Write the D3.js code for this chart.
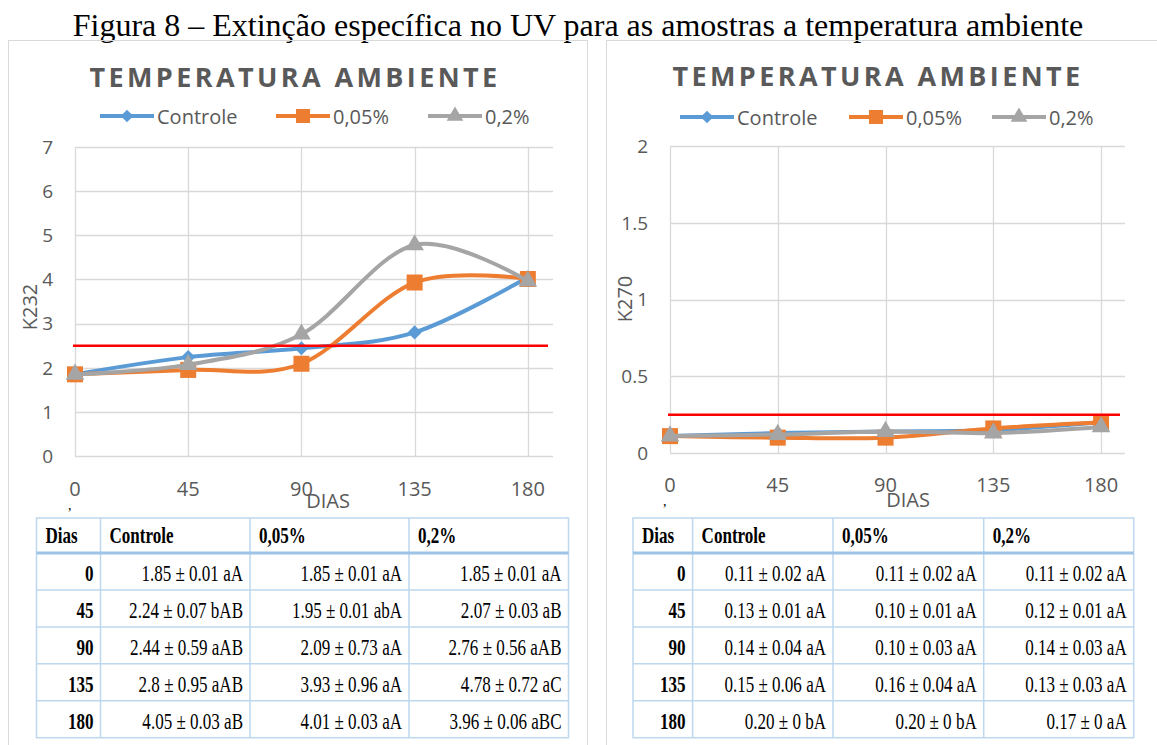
<!DOCTYPE html>
<html>
<head>
<meta charset="utf-8">
<script src="https://cdn.jsdelivr.net/npm/d3@7"></script>
<style>
  body { margin: 0; background: #fff; }
  svg { display: block; }
</style>
</head>
<body>
<div id="fig"></div>
<script>
// dados
var dias = [0, 45, 90, 135, 180];
var seriesNames = ["Controle", "0,05%", "0,2%"];

var k232Controle = [1.85, 2.24, 2.44, 2.8, 4.05];
var k232Dose005 = [1.85, 1.95, 2.09, 3.93, 4.01];
var k232Dose02 = [1.85, 2.07, 2.76, 4.78, 3.96];
var k232Limite = 2.5;
var k232Ticks = [0, 1, 2, 3, 4, 5, 6, 7];

var k270Controle = [0.11, 0.13, 0.14, 0.15, 0.20];
var k270Dose005 = [0.11, 0.10, 0.10, 0.16, 0.20];
var k270Dose02 = [0.11, 0.12, 0.14, 0.13, 0.17];
var k270Limite = 0.25;
var k270Ticks = [0, 0.5, 1, 1.5, 2];

var tableHeader = ["Dias", "Controle", "0,05%", "0,2%"];
var k232Table = [
  ["1.85 ± 0.01 aA", "1.85 ± 0.01 aA", "1.85 ± 0.01 aA"],
  ["2.24 ± 0.07 bAB", "1.95 ± 0.01 abA", "2.07 ± 0.03 aB"],
  ["2.44 ± 0.59 aAB", "2.09 ± 0.73 aA", "2.76 ± 0.56 aAB"],
  ["2.8 ± 0.95 aAB", "3.93 ± 0.96 aA", "4.78 ± 0.72 aC"],
  ["4.05 ± 0.03 aB", "4.01 ± 0.03 aA", "3.96 ± 0.06 aBC"]
];
var k270Table = [
  ["0.11 ± 0.02 aA", "0.11 ± 0.02 aA", "0.11 ± 0.02 aA"],
  ["0.13 ± 0.01 aA", "0.10 ± 0.01 aA", "0.12 ± 0.01 aA"],
  ["0.14 ± 0.04 aA", "0.10 ± 0.03 aA", "0.14 ± 0.03 aA"],
  ["0.15 ± 0.06 aA", "0.16 ± 0.04 aA", "0.13 ± 0.03 aA"],
  ["0.20 ± 0 bA", "0.20 ± 0 bA", "0.17 ± 0 aA"]
];

var colors = ["#5B9BD5", "#ED7D31", "#A5A5A5"];
var textGray = "#595959";
var sans = "'Open Sans', 'Liberation Sans', sans-serif";
var serif = "'Liberation Serif', 'Times New Roman', serif";

var width = 1157, height = 745;

var svg = d3.select("#fig").append("svg")
  .attr("width", width)
  .attr("height", height);

svg.append("rect").attr("width", width).attr("height", height).attr("fill", "#fff");

svg.append("text")
  .attr("x", 578).attr("y", 36)
  .attr("text-anchor", "middle")
  .style("font-family", serif)
  .style("font-size", "32px")
  .text("Figura 8 – Extinção específica no UV para as amostras a temperatura ambiente");

// molduras dos paineis
svg.append("rect").attr("x", 8.5).attr("y", 40.5).attr("width", 579).attr("height", 800)
  .attr("fill", "none").attr("stroke", "#D9D9D9");
svg.append("rect").attr("x", 606.5).attr("y", 40.5).attr("width", 600).attr("height", 800)
  .attr("fill", "none").attr("stroke", "#D9D9D9");

function markerPath(i, big) {
  if (i == 0) return d3.symbol(d3.symbolSquare, big ? 100 : 80)();
  if (i == 1) return d3.symbol(d3.symbolSquare, big ? 256 : 196)();
  return d3.symbol(d3.symbolTriangle, big ? 150 : 120)();
}

function drawChart(cfg) {
  var x = d3.scaleLinear().domain([0, 190]).range([cfg.x0, cfg.x1]);
  var y = d3.scaleLinear().domain([0, cfg.yMax]).range([cfg.yBot, cfg.yTop]);
  var g = svg.append("g");

  // grade
  g.selectAll(".hg").data(cfg.ticks).enter().append("line")
    .attr("x1", cfg.x0).attr("x2", cfg.x1)
    .attr("y1", function(d) { return Math.round(y(d)) + 0.5; })
    .attr("y2", function(d) { return Math.round(y(d)) + 0.5; })
    .attr("stroke", "#D9D9D9").attr("stroke-width", 1.3);
  g.selectAll(".vg").data(dias).enter().append("line")
    .attr("x1", function(d) { return Math.round(x(d)) + 0.5; })
    .attr("x2", function(d) { return Math.round(x(d)) + 0.5; })
    .attr("y1", cfg.yTop).attr("y2", cfg.yBot)
    .attr("stroke", "#D9D9D9").attr("stroke-width", 1.3);

  // rotulos dos eixos
  g.selectAll(".yt").data(cfg.ticks).enter().append("text")
    .attr("x", cfg.x0 - 22).attr("y", function(d) { return y(d); })
    .attr("dy", "0.36em").attr("text-anchor", "end")
    .style("font-family", sans).style("font-size", "19px").style("fill", textGray)
    .text(function(d) { return d; });
  g.selectAll(".xt").data(dias).enter().append("text")
    .attr("x", function(d) { return x(d); }).attr("y", cfg.xTickY)
    .attr("text-anchor", "middle")
    .style("font-family", sans).style("font-size", "20px").style("fill", textGray)
    .text(function(d) { return d; });

  g.append("text")
    .attr("x", cfg.diasX).attr("y", cfg.diasY).attr("text-anchor", "middle")
    .style("font-family", sans).style("font-size", "20px").style("fill", textGray)
    .text("DIAS");
  g.append("text")
    .attr("transform", "translate(" + cfg.yLabelX + "," + cfg.yLabelY + ") rotate(-90)")
    .attr("text-anchor", "middle").attr("dy", "0.36em")
    .style("font-family", sans).style("font-size", "20px").style("fill", textGray)
    .text(cfg.yLabel);

  // titulo
  g.append("text")
    .attr("x", cfg.titleX).attr("y", cfg.titleY).attr("text-anchor", "middle")
    .style("font-family", sans).style("font-size", "27px").style("font-weight", "bold")
    .style("letter-spacing", "3.4px").style("fill", textGray)
    .text("TEMPERATURA AMBIENTE");

  // legenda
  seriesNames.forEach(function(name, i) {
    var lx = cfg.legendX[i];
    g.append("line")
      .attr("x1", lx).attr("x2", lx + 54).attr("y1", cfg.legendY).attr("y2", cfg.legendY)
      .attr("stroke", colors[i]).attr("stroke-width", 4);
    g.append("path")
      .attr("d", markerPath(i, false))
      .attr("transform", "translate(" + (lx + 27) + "," + cfg.legendY + ")" + (i == 0 ? " rotate(45)" : ""))
      .attr("fill", colors[i]);
    g.append("text")
      .attr("x", lx + 57).attr("y", cfg.legendY + 7.5)
      .style("font-family", sans).style("font-size", "20px").style("fill", textGray)
      .text(name);
  });

  // series
  var line = d3.line()
    .x(function(d) { return x(d[0]); })
    .y(function(d) { return y(d[1]); })
    .curve(d3.curveCardinal.tension(0));

  cfg.series.forEach(function(vals, i) {
    var pts = dias.map(function(d, j) { return [d, vals[j]]; });
    g.append("path").datum(pts)
      .attr("d", line)
      .attr("fill", "none").attr("stroke", colors[i]).attr("stroke-width", 4)
      .attr("stroke-linecap", "round");
    g.selectAll(".m" + i).data(pts).enter().append("path")
      .attr("d", markerPath(i, true))
      .attr("transform", function(d) {
        return "translate(" + x(d[0]) + "," + y(d[1]) + ")" + (i == 0 ? " rotate(45)" : "");
      })
      .attr("fill", colors[i]);
  });

  // limite
  g.append("line")
    .attr("x1", cfg.x0 - 2).attr("x2", cfg.x1 - 5)
    .attr("y1", y(cfg.limite)).attr("y2", y(cfg.limite))
    .attr("stroke", "#FF0000").attr("stroke-width", 2.5);

  g.append("text")
    .attr("x", cfg.x0 - 7).attr("y", cfg.xTickY + 14)
    .style("font-family", serif).style("font-size", "14px")
    .text(",");
}

function drawTable(cfg) {
  var g = svg.append("g");
  var cols = cfg.cols;
  var top = 518, headBot = 553, rowH = 36.94;
  var bottom = headBot + rowH * cfg.rows.length;
  var border = "#BDD7EE";

  g.append("rect")
    .attr("x", cols[0]).attr("y", top)
    .attr("width", cols[4] - cols[0]).attr("height", bottom - top)
    .attr("fill", "none").attr("stroke", border).attr("stroke-width", 1.5);
  cols.slice(1, 4).forEach(function(c) {
    g.append("line").attr("x1", c).attr("x2", c).attr("y1", top).attr("y2", bottom)
      .attr("stroke", border).attr("stroke-width", 1.5);
  });
  cfg.rows.forEach(function(r, i) {
    if (i == 0) return;
    var yy = headBot + rowH * i;
    g.append("line").attr("x1", cols[0]).attr("x2", cols[4]).attr("y1", yy).attr("y2", yy)
      .attr("stroke", border).attr("stroke-width", 1.5);
  });
  g.append("line").attr("x1", cols[0]).attr("x2", cols[4]).attr("y1", headBot).attr("y2", headBot)
    .attr("stroke", "#9DC3E6").attr("stroke-width", 3);

  function cell(tx, ty, txt, anchor, bold) {
    g.append("text")
      .attr("transform", "translate(" + tx + "," + ty + ") scale(0.71,1)")
      .attr("text-anchor", anchor)
      .style("font-family", serif).style("font-size", "24px")
      .style("font-weight", bold ? "bold" : "normal")
      .text(txt);
  }

  tableHeader.forEach(function(h, j) {
    cell(cols[j] + 9, headBot - 10, h, "start", true);
  });
  cfg.rows.forEach(function(r, i) {
    var ty = headBot + rowH * (i + 1) - 9;
    cell(cols[1] - 7, ty, dias[i], "end", true);
    r.forEach(function(v, j) {
      cell(cols[j + 2] - 7, ty, v, "end", false);
    });
  });
}

drawChart({
  x0: 75, x1: 553, yTop: 147, yBot: 456, yMax: 7, ticks: k232Ticks,
  series: [k232Controle, k232Dose005, k232Dose02], limite: k232Limite,
  xTickY: 496, diasX: 328, diasY: 508, yLabel: "K232", yLabelX: 30, yLabelY: 307,
  titleX: 295, titleY: 87, legendX: [100, 276, 428], legendY: 116
});
drawChart({
  x0: 670, x1: 1125, yTop: 146, yBot: 453, yMax: 2, ticks: k270Ticks,
  series: [k270Controle, k270Dose005, k270Dose02], limite: k270Limite,
  xTickY: 492, diasX: 908, diasY: 507, yLabel: "K270", yLabelX: 625, yLabelY: 299,
  titleX: 878, titleY: 86, legendX: [680, 849, 992], legendY: 117
});

drawTable({ cols: [36.5, 100.5, 250, 409, 568.5], rows: k232Table });
drawTable({ cols: [633, 692.6, 833, 983.7, 1133.7], rows: k270Table });
</script>
</body>
</html>
